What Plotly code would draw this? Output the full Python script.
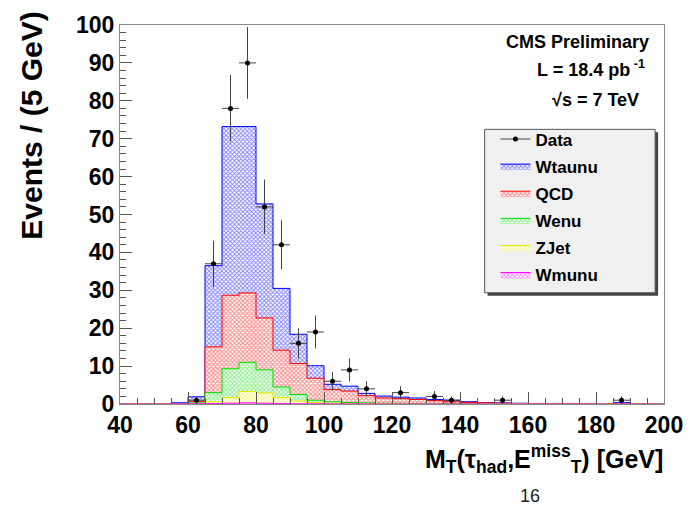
import numpy as np
import plotly.graph_objects as go

# ---------------- data ----------------
bin_edges = list(range(40, 205, 5))  # 40..200
data_counts = [0, 0, 0, 0, 1, 37, 78, 90, 52, 42, 16, 19, 6, 9, 4, 0,
               3, 0, 2, 1, 0, 0, 1, 0, 0, 0, 0, 0, 0, 1, 0, 0]
wtaunu = [0, 0, 0, 0.2, 1.2, 21.4, 44.5, 43.9, 30.1, 16.3, 7.7, 3.3, 1.4, 1.3, 0.6, 0.5,
          0.4, 0.4, 0.3, 0.4, 0.2, 0.1, 0.1, 0.1, 0.05, 0.05, 0.05, 0.05, 0, 0.3, 0, 0]
qcd = [0.05, 0.05, 0.05, 0.1, 0.4, 12.1, 19.4, 18.3, 13.7, 9.7, 8.2, 5.8, 3.2, 3.0, 1.9, 1.4,
       1.2, 1.05, 0.8, 0.5, 0.3, 0.25, 0.15, 0.05, 0.05, 0.05, 0.05, 0.05, 0, 0.03, 0.08, 0]
wenu = [0, 0, 0, 0.01, 0.15, 2.4, 7.6, 7.7, 6.1, 2.8, 1.7, 0.6, 0.4, 0.25, 0.2, 0.15,
        0.15, 0.1, 0.07, 0.07, 0.07, 0.03, 0.03, 0.03, 0.04, 0.04, 0.04, 0.04, 0.05, 0.02, 0.02, 0.05]
zjet = [0, 0, 0, 0, 0.1, 0.5, 1.5, 3.0, 2.7, 1.6, 0.75, 0.35, 0.17, 0.13, 0.08, 0.04,
        0.04, 0.03, 0.02, 0.02, 0.02, 0.01, 0.01, 0.01, 0, 0, 0, 0, 0, 0, 0, 0]
wmunu = [0, 0, 0, 0.02, 0.05, 0.1, 0.2, 0.3, 0.2, 0.1, 0.05, 0.05, 0.03, 0.02, 0.02, 0.01,
         0.01, 0.01, 0.01, 0.01, 0.01, 0.01, 0.01, 0.01, 0.01, 0.01, 0.01, 0.01, 0, 0, 0, 0]

x_ticks = list(range(40, 201, 20))
y_ticks = list(range(0, 101, 10))

# stacking order bottom -> top
stack_names = ["Wmunu", "ZJet", "Wenu", "QCD", "Wtaunu"]
stack_vals = [wmunu, zjet, wenu, qcd, wtaunu]
stack_cols = ["#ff00ff", "#e6e600", "#00dd00", "#ff0000", "#0000ff"]

edges = np.array(bin_edges, dtype=float)
centers = 0.5 * (edges[:-1] + edges[1:])
cum = np.cumsum(np.array(stack_vals, dtype=float), axis=0)

FONT = "Liberation Sans, Arial, Helvetica, sans-serif"

def px_x(p):
    return (p - 120) / 552

def px_y(p):
    return (404 - p) / 385

fig = go.Figure()

# draw the largest cumulative first so smaller ones cover it (ROOT THStack style)
legend_rank = {"Wtaunu": 2, "QCD": 3, "Wenu": 4, "ZJet": 5, "Wmunu": 6}
for i in reversed(range(len(stack_names))):
    y = list(cum[i]) + [cum[i][-1]]
    col = stack_cols[i]
    fig.add_trace(go.Scatter(
        x=edges, y=y, mode="lines", line=dict(shape="hv", color=col, width=1),
        fill="tozeroy", fillcolor="white",
        fillpattern=dict(shape="x", fgcolor=col, bgcolor="white", size=3, solidity=0.5),
        name=stack_names[i], legendrank=legend_rank[stack_names[i]],
        legendgroup=stack_names[i],
    ))

# data points
d = np.array(data_counts, dtype=float)
mask = d > 0
fig.add_trace(go.Scatter(
    x=centers[mask], y=d[mask], mode="markers",
    marker=dict(symbol="circle", size=5, color="black"),
    error_y=dict(type="data", array=np.sqrt(d[mask]), color="#444", thickness=1, width=0),
    error_x=dict(type="data", array=np.full(mask.sum(), 2.5), color="#444", thickness=1, width=0),
    showlegend=False, name="Data",
))
# legend entry for Data (line + marker)
fig.add_trace(go.Scatter(
    x=[None], y=[None], mode="lines+markers", name="Data",
    line=dict(color="#444", width=1), marker=dict(size=5, color="black"),
    legendrank=1, legendgroup="Data",
))

axis_common = dict(
    ticks="inside", tickcolor="#555", ticklen=12, tickwidth=1,
    showline=True, linecolor="#888", linewidth=1, mirror=True,
    showgrid=False, zeroline=False,
    tickfont=dict(family=FONT, size=23, color="black", weight="bold"),
)

fig.update_layout(
    width=695, height=511,
    margin=dict(l=120, r=23, t=19, b=107),
    paper_bgcolor="white", plot_bgcolor="white",
    xaxis=dict(range=[40, 200], tickvals=x_ticks,
               minor=dict(dtick=5, ticklen=6, ticks="inside", tickcolor="#555"),
               **axis_common),
    yaxis=dict(range=[0, 100], tickvals=y_ticks,
               minor=dict(dtick=2, ticklen=6, ticks="inside", tickcolor="#555"),
               **axis_common),
    legend=dict(
        x=px_x(501), y=px_y(117), xanchor="left", yanchor="top",
        bgcolor="rgba(0,0,0,0)", borderwidth=0,
        font=dict(family=FONT, size=17, color="black", weight="bold"),
        tracegroupgap=2, traceorder="grouped",
    ),
    showlegend=True,
)

# legend box with shadow (ROOT TLegend style)
fig.add_shape(type="rect", xref="paper", yref="paper",
              x0=px_x(493), x1=px_x(666), y0=px_y(294), y1=px_y(128),
              fillcolor="#444", line=dict(width=0), layer="above")
fig.add_shape(type="rect", xref="paper", yref="paper",
              x0=px_x(490), x1=px_x(663), y0=px_y(291), y1=px_y(125),
              fillcolor="#f0f0f0", line=dict(width=1, color="#555"), layer="above")

annots = [
    dict(text="CMS Preliminary", x=659, y=36),
    dict(text="L = 18.4 pb<sup> -1</sup>", x=655, y=63),
    dict(text="√s = 7 TeV", x=649, y=95),
]
for a in annots:
    fig.add_annotation(
        text=a["text"], xref="paper", yref="paper",
        x=px_x(a["x"]), y=px_y(a["y"]),
        xanchor="right", yanchor="middle", showarrow=False,
        font=dict(family=FONT, size=18, color="black", weight="bold"),
    )

# axis titles
fig.add_annotation(
    text="Events / (5 GeV)", xref="paper", yref="paper",
    x=px_x(30), y=px_y(121), textangle=-90,
    xanchor="center", yanchor="middle", showarrow=False,
    font=dict(family=FONT, size=30, color="black", weight="bold"),
)
fig.add_annotation(
    text="M<sub>T</sub>(τ<sub>had</sub>,E<sup>miss</sup><sub>T</sub>) [GeV]",
    xref="paper", yref="paper",
    x=px_x(673), y=px_y(460), xanchor="right", yanchor="middle", showarrow=False,
    font=dict(family=FONT, size=25, color="black", weight="bold"),
)
fig.add_annotation(
    text="16", xref="paper", yref="paper",
    x=px_x(536), y=px_y(497), xanchor="center", yanchor="middle",
    showarrow=False, font=dict(family=FONT, size=18, color="#222"),
)

fig.write_html("out.html")
